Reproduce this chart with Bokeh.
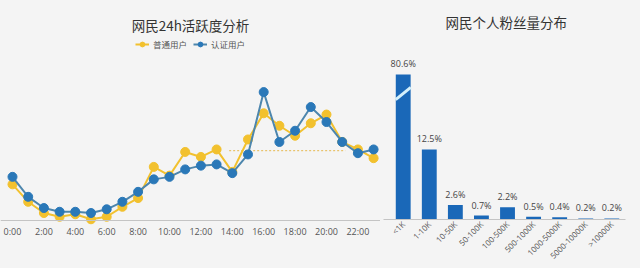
import math
from bokeh.plotting import figure
from bokeh.layouts import row, column
from bokeh.models import FixedTicker, Legend, LegendItem, Span
from bokeh.embed import file_html
from bokeh.resources import INLINE
from bokeh.core.properties import value

# ---------------- data ----------------
hours = list(range(24))
hour_ticks = list(range(0, 24, 2))
hour_labels = [f"{h}:00" for h in hour_ticks]
normal_users = [2.9, 1.5, 0.6, 0.3, 0.5, 0.1, 0.3, 1.1, 1.8, 4.3, 3.6, 5.5,
                5.1, 5.7, 3.9, 6.5, 8.6, 7.6, 6.8, 7.8, 8.5, 6.3, 5.7, 5.0]
verified_users = [3.5, 1.9, 1.0, 0.7, 0.7, 0.6, 0.9, 1.5, 2.3, 3.3, 3.5, 4.1,
                  4.4, 4.5, 3.8, 5.3, 10.3, 6.3, 7.2, 9.1, 7.9, 6.3, 5.4, 5.7]
ref_level = 5.6
ref_from = 13.8
ref_to = 21.2

fan_title = "网民个人粉丝量分布"
fan_bins = ["<1K", "1-10K", "10-50K", "50-100K", "100-500K", "500-1000K",
            "1000-5000K", "5000-10000K", ">10000K"]
fan_share = [80.6, 12.5, 2.6, 0.7, 2.2, 0.5, 0.4, 0.2, 0.2]
fan_labels = [f"{v}%" for v in fan_share]

# ---------------- style ----------------
BG = "#f4f4f4"
YELLOW = "#f2c12e"
BLUE = "#2a78b8"
BLUE_LINE = "#4d86ad"
BAR = "#1a68b8"
CJK = "Noto Sans CJK SC"
NUM = "Open Sans"

# ---------------- left: 24h activity ----------------
p1 = figure(width=380, height=268, x_range=(-0.764, 23.44), y_range=(-3.85, 14.84),
            output_backend="svg", toolbar_location=None,
            y_axis_location=None, x_axis_location=None,
            min_border_left=0, min_border_right=0, min_border_top=35, min_border_bottom=0)
p1.background_fill_color = BG
p1.border_fill_color = BG
p1.outline_line_color = None
p1.grid.visible = False
p1.title.text = "网民24h活跃度分析"
p1.title.align = "center"
p1.title.text_font = CJK
p1.title.text_font_size = "13.5px"
p1.title.text_font_style = "normal"
p1.title.text_color = "#333333"
p1.title.standoff = 2

# baseline (x axis line) and hour tick labels
p1.add_layout(Span(location=0, dimension="width", line_color="#c4c4c4", line_width=1))
p1.text(x=hour_ticks, y=[0] * len(hour_ticks), text=hour_labels, text_align="center",
        text_baseline="middle", y_offset=11, text_font=value(NUM),
        text_font_size="9px", text_color="#555555")

p1.segment(x0=[ref_from], y0=[ref_level], x1=[ref_to], y1=[ref_level],
           line_color="#e6b84e", line_width=1, line_dash="2 2")

ly = p1.line(hours, normal_users, line_color=YELLOW, line_width=2)
sy = p1.scatter(hours, normal_users, size=9, fill_color=YELLOW, line_color=YELLOW)
lb = p1.line(hours, verified_users, line_color=BLUE_LINE, line_width=2)
sb = p1.scatter(hours, verified_users, size=9, fill_color=BLUE, line_color=BLUE)

legend = Legend(items=[LegendItem(label="普通用户", renderers=[ly, sy]),
                       LegendItem(label="认证用户", renderers=[lb, sb])],
                orientation="horizontal", location="top_center",
                background_fill_alpha=0, border_line_color=None,
                label_text_font=CJK, label_text_font_size="8.5px",
                label_text_color="#555555", glyph_width=14, glyph_height=12,
                label_standoff=4, spacing=6, padding=2, margin=3)
p1.add_layout(legend)

# ---------------- right: follower distribution ----------------
x_lo, x_hi = -0.756, 8.525
p2 = figure(width=260, height=268, x_range=(x_lo, x_hi), y_range=(0, 39.1),
            output_backend="svg", toolbar_location=None, y_axis_location=None,
            min_border_left=3, min_border_right=15, min_border_top=0, min_border_bottom=49)
p2.title = None
p2.background_fill_color = BG
p2.border_fill_color = BG
p2.outline_line_color = None
p2.grid.visible = False

p2.text(x=[(x_lo + x_hi) / 2 + 0.07], y=[35.2], text=[fan_title], text_align="center",
        text_baseline="middle", text_font=value(CJK), text_font_size="13.5px",
        text_color="#333333")

bar_cap = 25.9
idx = list(range(len(fan_bins)))
shown = [min(v, bar_cap) for v in fan_share]
p2.vbar(x=idx, top=shown, width=0.57, fill_color=BAR, line_color=None)
p2.segment(x0=[-0.29], y0=[21.4], x1=[0.29], y1=[23.6], line_color="#d4f0fb", line_width=3)
p2.text(x=idx, y=shown, text=fan_labels, text_align="center", text_baseline="bottom",
        y_offset=-4, text_font=value(NUM), text_font_size="9px", text_color="#444444")

bx = p2.xaxis[0]
bx.ticker = FixedTicker(ticks=idx)
bx.major_label_overrides = {i: lab for i, lab in zip(idx, fan_bins)}
bx.major_label_orientation = math.pi / 4
bx.axis_line_color = "#c4c4c4"
bx.major_tick_line_color = None
bx.minor_tick_line_color = None
bx.major_tick_out = 0
bx.major_tick_in = 0
bx.major_label_standoff = 3
bx.major_label_text_font = NUM
bx.major_label_text_font_size = "8px"
bx.major_label_text_color = "#555555"

layout = row(column(p1, styles={"background-color": BG}),
             column(p2, styles={"background-color": BG}),
             styles={"background-color": BG})
open("out.html", "w").write(file_html(layout, INLINE))
